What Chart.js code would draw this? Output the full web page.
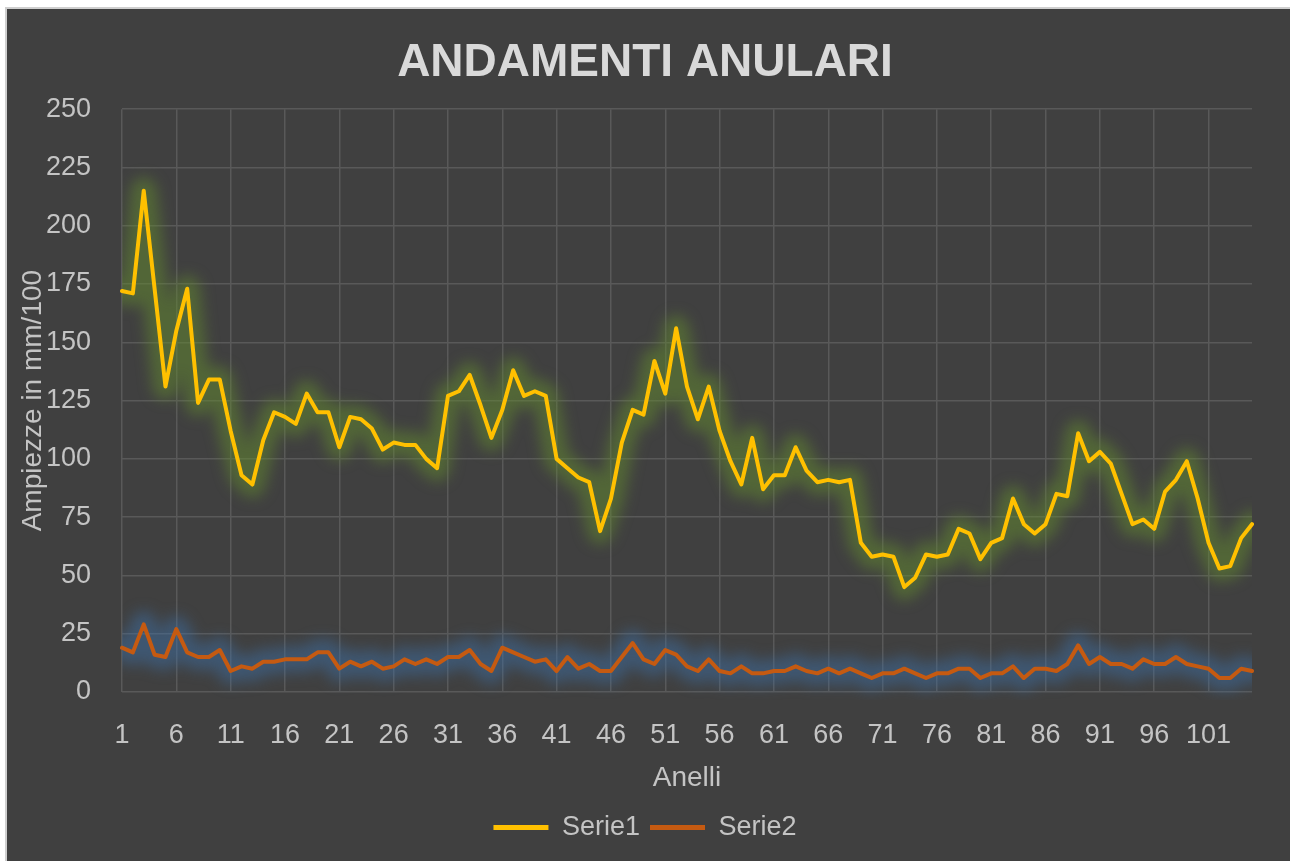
<!DOCTYPE html>
<html>
<head>
<meta charset="utf-8">
<title>Andamenti anulari</title>
<script src="https://cdn.jsdelivr.net/npm/chart.js@4.4.1/dist/chart.umd.min.js"></script>
<style>
  html, body { margin: 0; padding: 0; background: #ffffff; }
  #chartHolder { width: 1290px; height: 861px; }
</style>
</head>
<body>
<div id="chartHolder">
  <canvas id="ringChart" width="1290" height="861"></canvas>
</div>
<script>
// anelli (categorie)
const categories = [
  1, 2, 3, 4, 5, 6, 7, 8, 9, 10, 11, 12, 13, 14, 15, 16, 17, 18, 19, 20,
  21, 22, 23, 24, 25, 26, 27, 28, 29, 30, 31, 32, 33, 34, 35, 36, 37, 38, 39, 40,
  41, 42, 43, 44, 45, 46, 47, 48, 49, 50, 51, 52, 53, 54, 55, 56, 57, 58, 59, 60,
  61, 62, 63, 64, 65, 66, 67, 68, 69, 70, 71, 72, 73, 74, 75, 76, 77, 78, 79, 80,
  81, 82, 83, 84, 85, 86, 87, 88, 89, 90, 91, 92, 93, 94, 95, 96, 97, 98, 99, 100,
  101, 102, 103, 104, 105
];

const serie1 = [
  172, 171, 215, 173, 131, 155, 173, 124, 134, 134,
  112, 93, 89, 108, 120, 118, 115, 128, 120, 120,
  105, 118, 117, 113, 104, 107, 106, 106, 100, 96,
  127, 129, 136, 123, 109, 121, 138, 127, 129, 127,
  100, 96, 92, 90, 69, 83, 107, 121, 119, 142,
  128, 156, 131, 117, 131, 112, 99, 89, 109, 87,
  93, 93, 105, 95, 90, 91, 90, 91, 64, 58,
  59, 58, 45, 49, 59, 58, 59, 70, 68, 57,
  64, 66, 83, 72, 68, 72, 85, 84, 111, 99,
  103, 98, 85, 72, 74, 70, 86, 91, 99, 83,
  64, 53, 54, 66, 72
];

const serie2 = [
  19, 17, 29, 16, 15, 27, 17, 15, 15, 18,
  9, 11, 10, 13, 13, 14, 14, 14, 17, 17,
  10, 13, 11, 13, 10, 11, 14, 12, 14, 12,
  15, 15, 18, 12, 9, 19, 17, 15, 13, 14,
  9, 15, 10, 12, 9, 9, 15, 21, 14, 12,
  18, 16, 11, 9, 14, 9, 8, 11, 8, 8,
  9, 9, 11, 9, 8, 10, 8, 10, 8, 6,
  8, 8, 10, 8, 6, 8, 8, 10, 10, 6,
  8, 8, 11, 6, 10, 10, 9, 12, 20, 12,
  15, 12, 12, 10, 14, 12, 12, 15, 12, 11,
  10, 6, 6, 10, 9
];

const xTickLabels = [1, 6, 11, 16, 21, 26, 31, 36, 41, 46, 51, 56, 61, 66, 71, 76, 81, 86, 91, 96, 101];
const yTickValues = [0, 25, 50, 75, 100, 125, 150, 175, 200, 225, 250];

const FONT = "'Liberation Sans', Arial, sans-serif";
const TEXT = "#c4c4c4";
const GRID = "#595959";

// sfondo scuro con bordino chiaro in alto e a sinistra
const backgroundPlugin = {
  id: "background",
  beforeDraw(chart) {
    const ctx = chart.ctx;
    ctx.save();
    ctx.fillStyle = "#ffffff";
    ctx.fillRect(0, 0, chart.width, chart.height);
    ctx.fillStyle = "#cfcfcf";
    ctx.fillRect(5, 7, chart.width, chart.height);
    ctx.fillStyle = "#404040";
    ctx.fillRect(7, 9, chart.width, chart.height);
    ctx.restore();
  }
};

// effetto "bagliore" sotto le linee
const glowPlugin = {
  id: "glow",
  beforeDatasetDraw(chart, args) {
    if (chart.data.datasets[args.index].glow) {
      chart.ctx.save();
      chart.ctx.filter = "blur(7px)";
    }
  },
  afterDatasetDraw(chart, args) {
    if (chart.data.datasets[args.index].glow) {
      chart.ctx.restore();
    }
  }
};

const canvasElement = document.querySelector("#ringChart");

const ringChart = new Chart(canvasElement, {
  type: "line",
  data: {
    labels: categories,
    datasets: [
      {
        label: "Serie1",
        data: serie1,
        borderColor: "#FFC000",
        backgroundColor: "#FFC000",
        borderWidth: 4,
        pointRadius: 0,
        tension: 0,
        borderJoinStyle: "round",
        borderCapStyle: "round",
        order: 0
      },
      {
        label: "Serie2",
        data: serie2,
        borderColor: "#C55A11",
        backgroundColor: "#C55A11",
        borderWidth: 4,
        pointRadius: 0,
        tension: 0,
        borderJoinStyle: "round",
        borderCapStyle: "round",
        order: 0
      },
      {
        label: "glow1",
        data: serie1,
        glow: true,
        clip: { left: 0, right: 0, top: 0, bottom: 8 },
        borderColor: "rgba(100, 140, 45, 0.5)",
        borderWidth: 26,
        pointRadius: 0,
        tension: 0,
        borderJoinStyle: "round",
        borderCapStyle: "round",
        order: 1
      },
      {
        label: "glow2",
        data: serie2,
        glow: true,
        clip: { left: 0, right: 0, top: 0, bottom: 8 },
        borderColor: "rgba(60, 110, 165, 0.48)",
        borderWidth: 26,
        pointRadius: 0,
        tension: 0,
        borderJoinStyle: "round",
        borderCapStyle: "round",
        order: 1
      }
    ]
  },
  options: {
    responsive: false,
    animation: false,
    devicePixelRatio: 1,
    layout: { padding: { top: 0, left: 0, right: 0, bottom: 10 } },
    plugins: {
      tooltip: { enabled: false },
      title: {
        display: true,
        text: "ANDAMENTI ANULARI",
        color: "#d9d9d9",
        font: { family: FONT, size: 46, weight: "bold" },
        padding: { top: 36, bottom: 18 }
      },
      legend: {
        position: "bottom",
        labels: {
          color: TEXT,
          font: { family: FONT, size: 27 },
          boxWidth: 55,
          boxHeight: 5,
          padding: 10,
          generateLabels: (chart) =>
            Chart.defaults.plugins.legend.labels.generateLabels(chart)
              .filter(item => item.datasetIndex < 2)
              .map(item => ({ ...item, lineWidth: 0 }))
        }
      }
    },
    scales: {
      x: {
        type: "category",
        offset: false,
        border: { display: false },
        grid: {
          drawTicks: false,
          lineWidth: 1.5,
          color: (ctx) => ctx.tick && xTickLabels.includes(Number(categories[ctx.index])) ? GRID : "rgba(0,0,0,0)"
        },
        ticks: {
          autoSkip: false,
          maxRotation: 0,
          minRotation: 0,
          padding: 27,
          color: TEXT,
          font: { family: FONT, size: 27 },
          callback: (value, index) => xTickLabels.includes(categories[index]) ? String(categories[index]) : ""
        },
        title: {
          display: true,
          text: "Anelli",
          color: TEXT,
          font: { family: FONT, size: 28 },
          padding: { top: 0, bottom: 9 }
        },
        afterFit: (scale) => { scale.height = 112; }
      },
      y: {
        min: 0,
        max: 250,
        border: { display: false },
        grid: { drawTicks: false, lineWidth: 1.5, color: GRID },
        ticks: {
          padding: 31,
          color: TEXT,
          font: { family: FONT, size: 27 }
        },
        afterBuildTicks: (scale) => { scale.ticks = yTickValues.map(v => ({ value: v })); },
        title: {
          display: true,
          text: "Ampiezze in mm/100",
          color: TEXT,
          font: { family: FONT, size: 28 },
          padding: { top: 16, bottom: 0 }
        },
        afterFit: (scale) => { scale.width = 122; }
      },
      // asse fittizio per lo spazio a destra
      yRight: {
        position: "right",
        display: true,
        grid: { display: false },
        border: { display: false },
        ticks: { display: false },
        afterFit: (scale) => { scale.width = 38; }
      }
    }
  },
  plugins: [backgroundPlugin, glowPlugin]
});
</script>
</body>
</html>
